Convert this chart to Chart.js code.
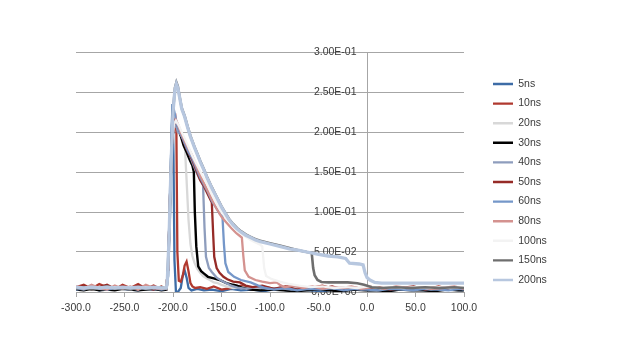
<!DOCTYPE html>
<html><head><meta charset="utf-8">
<script src="https://cdn.jsdelivr.net/npm/chart.js@4.4.0/dist/chart.umd.min.js"></script>
<style>html,body{margin:0;padding:0;background:#fff;}#wrap{width:623px;height:362px;}</style>
</head><body><div id="wrap"><canvas id="c" width="623" height="362"></canvas></div>
<script>
// ---------- data ----------
const seriesNames = ['5ns','10ns','20ns','30ns','40ns','50ns','60ns','80ns','100ns','150ns','200ns'];
const xTicks = [-300,-250,-200,-150,-100,-50,0,50,100];
const yTicks = [0,0.05,0.10,0.15,0.20,0.25,0.30];

const preX = [-300,-292,-284,-276,-268,-260,-252,-244,-236,-228,-220,-212,-207];

const x5ns = preX.concat([-205,-203,-201.5,-200.5,-199.5,-198.5,-197,-195,-192,-190,-188,-186,-184,-181,-175,-168,-160,-150,-140,-130,-118,-106,-94,-82,-70,-58,-46,-34,-22,-10,2,14,26,38,50,62,74,86,98,100]);
const y5ns = [0.004,0.003,0.005,0.002,0.004,0.003,0.005,0.003,0.002,0.004,0.003,0.004,0.003,
  0.02,0.10,0.20,0.235,0.17,0.04,0.001,0.000,0.005,0.02,0.027,0.018,0.005,0.002,0.004,0.002,0.003,0.001,0.004,0.002,0.003,0.001,0.004,0.002,0.003,0.002,0.001,0.003,0.002,0.004,0.002,0.003,0.002,0.004,0.003,0.002,0.004,0.003,0.002,0.003];

const x10ns = preX.concat([-205,-203,-201,-199,-197.5,-196.5,-195.5,-194,-192,-190,-188,-186,-184,-182,-180,-177,-172,-165,-158,-150,-140,-130,-118,-106,-94,-82,-70,-58,-46,-34,-22,-10,2,14,26,38,50,62,74,86,98,100]);
const y10ns = [0.006,0.009,0.004,0.010,0.006,0.003,0.009,0.005,0.010,0.004,0.008,0.003,0.004,
  0.03,0.12,0.19,0.212,0.217,0.20,0.05,0.014,0.013,0.02,0.033,0.038,0.026,0.011,0.007,0.005,0.006,0.004,0.007,0.003,0.005,0.008,0.003,0.006,0.004,0.007,0.003,0.005,0.008,0.004,0.006,0.003,0.007,0.004,0.005,0.003,0.006,0.004,0.007,0.003,0.005,0.004];

const x20ns = preX.concat([-205,-203,-201,-199,-197,-195,-192,-190,-188,-186,-184,-182,-180,-178,-175,-172,-169,-165,-162,-158,-154,-150,-145,-138,-130,-118,-106,-94,-82,-70,-58,-46,-34,-22,-10,2,14,26,38,50,62,74,86,98,100]);
const y20ns = [0.005,0.004,0.006,0.005,0.004,0.006,0.005,0.004,0.006,0.005,0.004,0.005,0.004,
  0.03,0.12,0.19,0.21,0.213,0.208,0.198,0.193,0.188,0.14,0.09,0.06,0.045,0.037,0.029,0.024,0.02,0.017,0.015,0.012,0.011,0.009,0.007,0.005,0.006,0.004,0.005,0.004,0.006,0.005,0.004,0.005,0.004,0.006,0.005,0.004,0.005,0.004,0.006,0.005,0.004,0.005,0.004,0.005,0.004];

const x30ns = preX.concat([-205,-203,-201,-199,-197,-195,-192,-189,-186,-183,-180,-178.5,-177.5,-176,-174,-171,-168,-164,-158,-152,-145,-138,-134,-128,-120,-110,-98,-86,-74,-62,-50,-38,-26,-14,-2,10,22,34,46,58,70,82,94,100]);
const y30ns = [0.003,0.002,0.004,0.002,0.003,0.002,0.004,0.003,0.002,0.003,0.004,0.002,0.003,
  0.03,0.12,0.19,0.208,0.212,0.205,0.195,0.183,0.175,0.166,0.158,0.15,0.10,0.057,0.032,0.026,0.023,0.019,0.017,0.015,0.011,0.009,0.008,0.005,0.003,0.002,0.003,0.002,0.001,0.002,0.003,0.002,0.001,0.003,0.002,0.002,0.001,0.003,0.002,0.002,0.001,0.003,0.002,0.002];

const x40ns = preX.concat([-205,-203,-201,-199,-197,-195,-192,-189,-186,-183,-180,-177,-174,-171,-169,-167.5,-166,-163,-160,-155,-150,-145,-140,-132,-124,-114,-102,-90,-78,-66,-54,-42,-30,-18,-6,6,18,30,42,54,66,78,90,100]);
const y40ns = [0.005,0.003,0.006,0.004,0.003,0.006,0.004,0.005,0.003,0.006,0.004,0.005,0.004,
  0.03,0.12,0.19,0.205,0.21,0.2,0.197,0.19,0.18,0.172,0.162,0.153,0.145,0.138,0.133,0.08,0.044,0.03,0.025,0.018,0.014,0.011,0.008,0.005,0.004,0.006,0.004,0.005,0.003,0.005,0.004,0.006,0.004,0.005,0.003,0.005,0.004,0.006,0.004,0.005,0.003,0.005,0.004,0.005];

const x50ns = preX.concat([-205,-203,-201,-199,-197,-195,-192,-189,-186,-183,-180,-176,-172,-168,-164,-160,-158.5,-157.5,-155,-152,-148,-144,-138,-131,-125,-118,-108,-96,-84,-72,-60,-48,-36,-24,-12,0,12,24,36,48,60,72,84,96,100]);
const y50ns = [0.004,0.008,0.003,0.006,0.009,0.004,0.007,0.003,0.008,0.005,0.003,0.007,0.004,
  0.03,0.12,0.19,0.21,0.213,0.207,0.198,0.188,0.179,0.172,0.165,0.152,0.14,0.132,0.122,0.112,0.07,0.044,0.03,0.024,0.019,0.016,0.013,0.012,0.008,0.006,0.008,0.004,0.007,0.003,0.006,0.004,0.007,0.003,0.005,0.004,0.006,0.003,0.005,0.007,0.003,0.006,0.004,0.005,0.004];

const x60ns = preX.concat([-205,-203,-201,-199.5,-198,-196,-193,-190,-187,-184,-180,-176,-172,-168,-164,-160,-156,-152,-149,-147.5,-146,-143,-137,-130,-120,-112,-105,-96,-84,-72,-60,-48,-36,-24,-12,0,12,24,36,48,60,72,84,96,100]);
const y60ns = [0.003,0.005,0.004,0.006,0.003,0.005,0.004,0.003,0.006,0.004,0.005,0.003,0.004,
  0.03,0.13,0.21,0.23,0.222,0.21,0.2,0.192,0.183,0.175,0.167,0.155,0.143,0.134,0.125,0.114,0.106,0.098,0.094,0.06,0.036,0.025,0.019,0.015,0.012,0.008,0.005,0.003,0.005,0.002,0.004,0.003,0.005,0.002,0.004,0.003,0.002,0.004,0.003,0.002,0.004,0.003,0.002,0.004,0.003];

const x80ns = preX.concat([-205,-203,-201,-199,-197,-195,-192,-189,-186,-183,-180,-176,-172,-168,-164,-160,-155,-150,-145,-140,-135,-131,-129,-127.5,-126,-122,-115,-108,-100,-93,-90,-85,-76,-66,-56,-46,-36,-26,-16,-6,6,18,30,42,54,66,78,90,100]);
const y80ns = [0.007,0.004,0.009,0.005,0.003,0.008,0.004,0.007,0.003,0.009,0.005,0.004,0.004,
  0.03,0.12,0.19,0.21,0.215,0.21,0.2,0.192,0.184,0.177,0.17,0.158,0.146,0.136,0.126,0.116,0.104,0.094,0.087,0.08,0.074,0.07,0.068,0.045,0.027,0.019,0.015,0.013,0.011,0.012,0.009,0.006,0.008,0.005,0.007,0.004,0.006,0.005,0.007,0.004,0.006,0.004,0.007,0.005,0.006,0.004,0.005,0.007,0.004];

const x100ns = preX.concat([-205,-203,-201,-199,-197,-194,-190,-185,-180,-175,-170,-165,-160,-155,-150,-145,-140,-135,-130,-125,-120,-115,-110,-108,-106,-104,-98,-90,-80,-70,-58,-46,-34,-22,-10,2,14,26,38,50,62,74,86,98,100]);
const y100ns = [0.005,0.006,0.005,0.006,0.005,0.006,0.005,0.006,0.005,0.006,0.005,0.006,0.005,
  0.03,0.12,0.19,0.21,0.214,0.208,0.197,0.184,0.17,0.158,0.146,0.135,0.122,0.11,0.1,0.092,0.085,0.078,0.073,0.069,0.065,0.062,0.059,0.057,0.03,0.02,0.016,0.013,0.01,0.008,0.006,0.007,0.005,0.006,0.005,0.007,0.005,0.006,0.005,0.006,0.005,0.006,0.005,0.006,0.005];

const x150ns = preX.concat([-206,-204,-202,-200,-198,-196.5,-195,-193,-191,-188,-185,-182,-178,-175,-172,-168,-165,-160,-155,-150,-146,-142,-138,-134,-130,-125,-120,-115,-110,-100,-90,-80,-70,-62,-57,-55.5,-54,-51,-47,-40,-30,-20,-10,-3,5,15,30,45,60,75,90,100]);
const y150ns = [0.004,0.006,0.003,0.005,0.007,0.004,0.005,0.003,0.006,0.004,0.005,0.006,0.004,
  0.01,0.07,0.16,0.225,0.255,0.262,0.257,0.243,0.23,0.22,0.207,0.195,0.182,0.173,0.164,0.153,0.144,0.131,0.119,0.107,0.099,0.091,0.085,0.08,0.076,0.072,0.069,0.066,0.064,0.061,0.058,0.055,0.052,0.05,0.049,0.03,0.021,0.015,0.0125,0.012,0.012,0.012,0.011,0.009,0.006,0.005,0.006,0.005,0.006,0.005,0.006,0.005];

const x200ns = preX.concat([-206,-204,-202,-200,-198,-196.5,-195,-193,-191,-188,-185,-182,-178,-175,-172,-168,-165,-160,-155,-150,-146,-142,-138,-134,-130,-125,-120,-115,-110,-100,-90,-80,-70,-62,-50,-40,-30,-22,-18,-8,-4,-2,0,3,8,15,30,50,70,100]);
const y200ns = [0.006,0.005,0.006,0.005,0.006,0.005,0.006,0.005,0.006,0.005,0.006,0.005,0.005,
  0.01,0.07,0.16,0.225,0.253,0.26,0.255,0.242,0.229,0.219,0.206,0.194,0.181,0.172,0.163,0.152,0.143,0.13,0.118,0.106,0.098,0.09,0.084,0.079,0.075,0.071,0.068,0.065,0.063,0.06,0.057,0.054,0.052,0.05,0.047,0.045,0.044,0.042,0.036,0.035,0.034,0.024,0.018,0.015,0.012,0.011,0.011,0.011,0.011,0.011];

const seriesX = [x5ns,x10ns,x20ns,x30ns,x40ns,x50ns,x60ns,x80ns,x100ns,x150ns,x200ns];
const seriesY = [y5ns,y10ns,y20ns,y30ns,y40ns,y50ns,y60ns,y80ns,y100ns,y150ns,y200ns];

// ---------- styles ----------
const seriesColors = ['#3d6ca6','#b0392f','#d8d8d8','#000000','#8e9dbd','#962b27','#7597c9','#d4928f','#f3f3f3','#6e6e6e','#b7c7df'];
const seriesWidths = [2.3,2.3,2.3,2.4,2.3,2.3,2.3,2.3,2.3,2.6,3.3];
const FONT_FAMILY = '"Liberation Sans", Arial, sans-serif';
const FONT_SIZE = 10.5;
const TEXT_COLOR = '#3a3a3a';
const GRID_COLOR = '#a6a6a6';
const LEG_PAD = 9.1, LEG_BOX = 20;
const Y_LABEL_GAP = '\u2002\u2002';

function fmtE(v) {
  if (Math.abs(v) < 1e-12) return '0.00E+00';
  let e = Math.floor(Math.log10(Math.abs(v)) + 1e-9);
  let m = v / Math.pow(10, e);
  if (Math.abs(m) >= 9.995) { m /= 10; e += 1; }
  const es = (e < 0 ? '-' : '+') + String(Math.abs(e)).padStart(2, '0');
  return m.toFixed(2) + 'E' + es;
}

// legend width -> right padding so that the plot area ends at x = 464
const mctx = document.createElement('canvas').getContext('2d');
mctx.font = 'normal ' + FONT_SIZE + 'px ' + FONT_FAMILY;
const maxTW = Math.max(...seriesNames.map(t => mctx.measureText(t).width));
const legendW = LEG_PAD + LEG_BOX + FONT_SIZE / 2 + maxTW + 10;
const padRight = 623 - 464 - legendW;

const legendShift = {
  id: 'legendShift',
  afterLayout(chart) {
    const lg = chart.legend;
    if (!lg) return;
    const w = lg.width;
    lg.left = 493 - LEG_PAD;
    lg.right = lg.left + w;
    lg.top -= 10;
    lg.bottom -= 10;
  }
};

const datasets = seriesNames.map((name, i) => ({
  label: name,
  data: seriesX[i].map((x, k) => ({ x: x, y: seriesY[i][k] })).filter(p => p.y !== undefined),
  borderColor: seriesColors[i],
  backgroundColor: seriesColors[i],
  borderWidth: seriesWidths[i],
  pointRadius: 0,
  pointHoverRadius: 0,
  tension: 0,
  fill: false,
  order: seriesNames.length - 1 - i
}));

new Chart(document.getElementById('c'), {
  type: 'line',
  data: { datasets },
  options: {
    responsive: false,
    animation: false,
    devicePixelRatio: 1,
    layout: { padding: { left: 76, top: 52, bottom: 30, right: padRight } },
    plugins: {
      tooltip: { enabled: false },
      legend: {
        display: true,
        position: 'right',
        align: 'center',
        labels: {
          font: { family: FONT_FAMILY, size: FONT_SIZE },
          color: TEXT_COLOR,
          boxWidth: LEG_BOX,
          boxHeight: 2.4,
          padding: LEG_PAD,
          generateLabels: chart => chart.data.datasets.map((ds, i) => ({
            text: ds.label, fillStyle: ds.borderColor, strokeStyle: ds.borderColor,
            lineWidth: 0, hidden: false, datasetIndex: i, fontColor: TEXT_COLOR
          }))
        }
      }
    },
    scales: {
      x: {
        type: 'linear', min: xTicks[0], max: xTicks[xTicks.length - 1],
        afterBuildTicks: s => { s.ticks = xTicks.map(v => ({ value: v })); },
        ticks: { callback: v => Number(v).toFixed(1), font: { family: FONT_FAMILY, size: FONT_SIZE }, color: TEXT_COLOR, padding: 5, maxRotation: 0, autoSkip: false },
        grid: { display: true, drawOnChartArea: false, drawTicks: true, tickLength: 5, color: GRID_COLOR },
        border: { display: true, color: GRID_COLOR },
        afterFit: s => { s.height = 40; }
      },
      y: {
        type: 'linear', min: yTicks[0], max: yTicks[yTicks.length - 1], position: { x: 0 },
        afterBuildTicks: s => { s.ticks = yTicks.map(v => ({ value: v })); },
        ticks: { callback: v => fmtE(v) + Y_LABEL_GAP, font: { family: FONT_FAMILY, size: FONT_SIZE }, color: TEXT_COLOR, padding: 11 },
        grid: { color: GRID_COLOR, drawTicks: false },
        border: { display: true, color: GRID_COLOR }
      }
    }
  },
  plugins: [legendShift]
});
</script></body></html>
